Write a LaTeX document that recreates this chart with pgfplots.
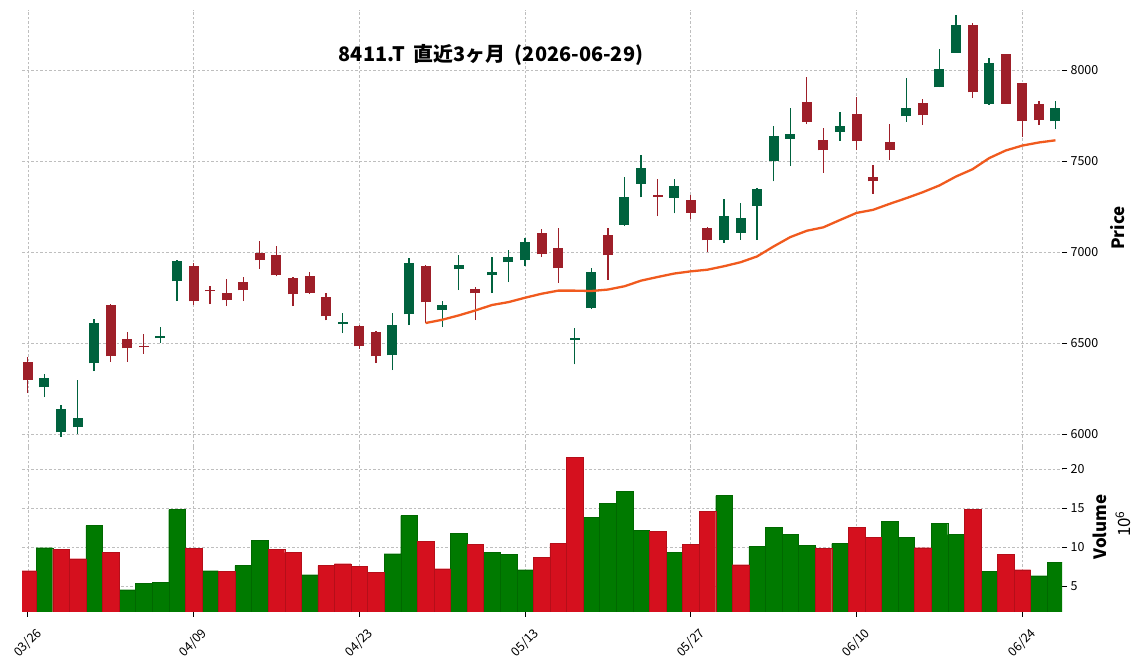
\documentclass[border=0pt]{standalone}
\usepackage{fontspec}
\setmainfont{Noto Sans CJK JP}
\usepackage{pgfplots}
\usepackage{pgfplotstable}
\pgfplotsset{compat=1.18}
\definecolor{cup}{RGB}{0,98,62}
\definecolor{cdn}{RGB}{158,31,41}
\definecolor{vupc}{RGB}{0,122,0}
\definecolor{vdnc}{RGB}{213,16,30}
\definecolor{mac}{RGB}{240,90,30}
\definecolor{gridc}{RGB}{190,190,190}

\pgfplotstableread{
i o h l c
1 6256 6330 6203 6310
2 6009 6161 5984 6139
3 6037 6297 6002 6090
4 6388 6632 6346 6612
8 6526 6588 6500 6540
9 6839 6955 6731 6952
19 6604 6663 6555 6617
22 6432 6663 6352 6599
23 6658 6965 6599 6941
25 6681 6731 6588 6711
26 6905 6984 6791 6930
28 6872 6973 6775 6892
29 6943 7011 6835 6974
30 6954 7077 6925 7057
33 6517 6583 6383 6530
34 6690 6911 6686 6892
36 7151 7415 7142 7302
37 7375 7532 7300 7461
39 7299 7399 7213 7363
42 7064 7290 7049 7199
43 7107 7268 7067 7188
44 7255 7350 7067 7346
45 7501 7692 7388 7636
46 7622 7790 7472 7647
49 7659 7771 7612 7690
53 7746 7956 7715 7793
55 7905 8113 7905 8007
56 8095 8302 8095 8249
58 7815 8066 7808 8040
62 7718 7832 7676 7792
}\tabup

\pgfplotstableread{
i o h l c
0 6397 6423 6225 6295
5 6711 6716 6396 6427
6 6524 6559 6396 6471
7 6485 6548 6440 6476
10 6925 6940 6709 6729
11 6793 6813 6714 6784
12 6777 6852 6703 6734
13 6837 6863 6731 6789
14 6995 7059 6907 6954
15 6985 7033 6866 6872
16 6859 6863 6703 6767
17 6870 6890 6770 6775
18 6755 6775 6625 6647
20 6595 6601 6467 6482
21 6562 6565 6390 6427
24 6925 6928 6612 6723
27 6795 6808 6626 6773
31 7106 7126 6973 6987
32 7024 7132 6830 6910
35 7095 7131 6847 6982
38 7312 7399 7197 7304
40 7286 7312 7180 7217
41 7133 7140 7002 7064
47 7824 7962 7703 7714
48 7618 7683 7436 7559
50 7760 7854 7558 7609
51 7410 7479 7320 7389
52 7607 7704 7506 7559
54 7821 7841 7700 7751
57 8249 8258 7846 7878
59 8090 8090 7815 7815
60 7931 7931 7631 7718
61 7815 7832 7698 7724
}\tabdn

\pgfplotstableread{
i v
1 9.91
4 12.73
6 4.53
7 5.30
8 5.43
9 14.79
11 6.96
13 7.61
14 10.81
17 6.45
22 9.14
23 14.02
26 11.71
28 9.27
29 9.02
30 7.09
34 13.76
35 15.56
36 17.09
37 12.09
39 9.27
42 16.58
44 10.04
45 12.48
46 11.58
47 10.17
49 10.43
52 13.25
53 11.20
55 12.99
56 11.58
58 6.84
61 6.32
62 7.99
}\tabvup

\pgfplotstableread{
i v
0 6.96
2 9.66
3 8.50
5 9.27
10 9.79
12 6.84
15 9.66
16 9.27
18 7.61
19 7.86
20 7.48
21 6.71
24 10.68
25 7.22
27 10.30
31 8.63
32 10.43
33 21.45
38 11.96
40 10.30
41 14.53
43 7.73
48 9.79
50 12.48
51 11.20
54 9.91
57 14.79
59 9.02
60 7.09
}\tabvdn

\pgfplotstableread{
i m
24 6610
25 6628
26 6652
27 6679
28 6709
29 6725
30 6749
31 6771
32 6788
33 6788
34 6786
35 6794
36 6812
37 6843
38 6863
39 6882
40 6894
41 6903
42 6922
43 6944
44 6976
45 7031
46 7082
47 7117
48 7136
49 7176
50 7215
51 7232
52 7265
53 7296
54 7329
55 7366
56 7415
57 7455
58 7516
59 7558
60 7585
61 7602
62 7614
}\tabma

\begin{document}
\begin{tikzpicture}[x=1bp,y=1bp]
\pgfplotsset{
  base/.style={
    scale only axis, width=1040bp,
    xmin=-0.35, xmax=62.4, enlargelimits=false,
    axis x line*=bottom, axis y line*=right,
    axis line style={draw=none},
    tick align=outside, major tick length=5bp,
    tick style={black, line width=0.8bp},
    grid=major,
    grid style={gridc, dash pattern=on 2.5bp off 2bp, line width=0.6bp},
    xtick={0,10,...,60},
    ticklabel style={font=\fontsize{12.5}{15}\selectfont},
    /pgf/number format/assume math mode=true,
    /pgf/number format/1000 sep={},
  },
  candle/.style 2 args={draw=none, mark=none, forget plot,
    error bars/.cd, y dir=plus, y explicit, error mark=none,
    error bar style={draw=#1, line width=#2, line cap=butt}},
}
\begin{axis}[base, at={(22bp,223bp)}, anchor=south west, height=437bp,
  ymin=5929, ymax=8330, ytick={6000,6500,...,8000},
  xticklabels={}, xtick style={draw=none}]
\addplot[candle={cup}{1.3bp}]
  table[x=i, y=l, y error plus expr=\thisrow{h}-\thisrow{l}] {\tabup};
\addplot[candle={cdn}{1.3bp}]
  table[x=i, y=l, y error plus expr=\thisrow{h}-\thisrow{l}] {\tabdn};
\addplot[candle={cup}{10bp}]
  table[x=i, y=o, y error plus expr=\thisrow{c}-\thisrow{o}] {\tabup};
\addplot[candle={cdn}{10bp}]
  table[x=i, y=c, y error plus expr=\thisrow{o}-\thisrow{c}] {\tabdn};
\addplot[mac, line width=2.3bp, no marks] table[x=i, y=m] {\tabma};
\end{axis}
\begin{axis}[base, at={(22bp,58bp)}, anchor=south west, height=165bp,
  ymin=1.67, ymax=22.8, ytick={5,10,15,20},
  xticklabels={03/26,04/09,04/23,05/13,05/27,06/10,06/24},
  xticklabel style={anchor=center, yshift=-26bp, rotate=45}]
\addplot[ybar, bar width=1, bar shift=0pt, fill=vupc, draw=vupc!85!black, line width=0.3bp]
  table[x=i, y=v] {\tabvup};
\addplot[ybar, bar width=1, bar shift=0pt, fill=vdnc, draw=vdnc!85!black, line width=0.3bp]
  table[x=i, y=v] {\tabvdn};
\end{axis}
\node[font=\bfseries\fontsize{20}{24}\selectfont] at (491,615) {8411.T\ \ 直近3ヶ月\ \ (2026-06-29)};
\node[rotate=90, font=\bfseries\fontsize{17}{20}\selectfont] at (1118,442) {Price};
\node[rotate=90, font=\bfseries\fontsize{17}{20}\selectfont] at (1100,143) {Volume};
\node[rotate=90, font=\fontsize{17}{20}\selectfont] at (1123,146) {10\textsuperscript{6}};
\pgfresetboundingbox
\path[use as bounding box] (0,0) rectangle (1144,670);
\end{tikzpicture}
\end{document}
